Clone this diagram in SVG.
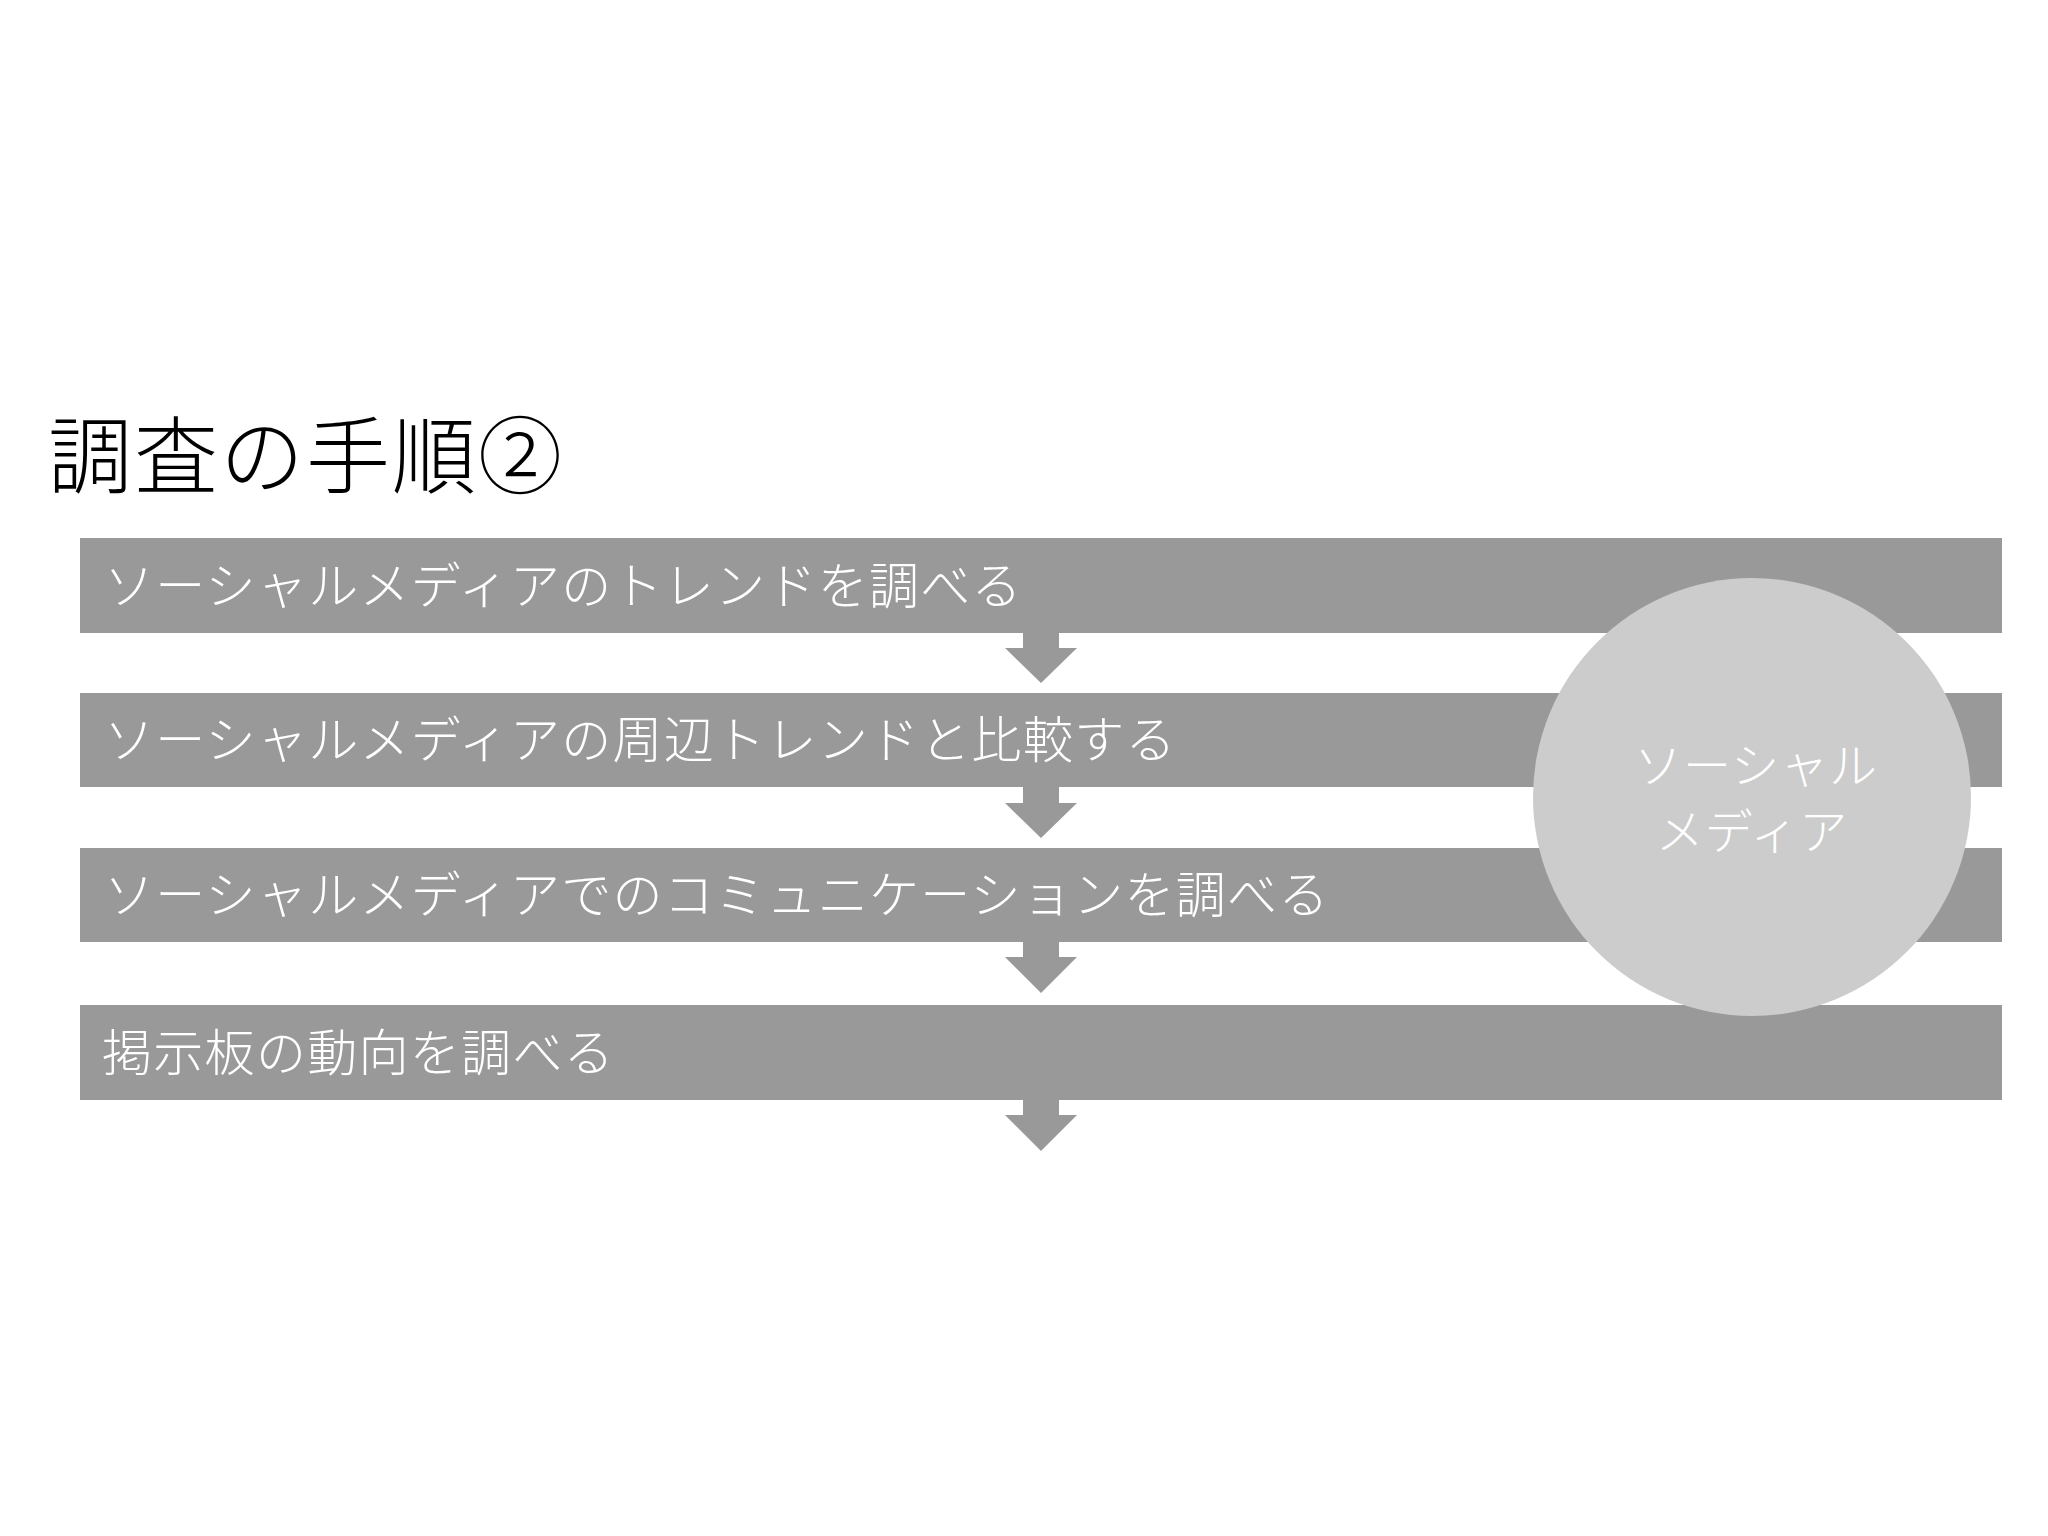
<svg xmlns="http://www.w3.org/2000/svg" width="2048" height="1536" viewBox="0 0 2048 1536">
<style>
.bar{fill:#999999}
.arrow{fill:#999999}
.bt{font-family:"Noto Sans CJK JP","Noto Sans CJK SC",sans-serif;font-size:50px;font-weight:300;fill:#ffffff;letter-spacing:1.3px}
.title{font-family:"Noto Sans CJK JP","Noto Sans CJK SC",sans-serif;font-size:84px;font-weight:300;fill:#000000;letter-spacing:2px}
.ct{font-family:"Noto Sans CJK JP","Noto Sans CJK SC",sans-serif;font-size:48px;font-weight:300;fill:#ffffff;text-anchor:middle;letter-spacing:1px}
</style>
<rect width="2048" height="1536" fill="#ffffff"/>
<text id="title" class="title" x="48" y="487">調査の手順②</text>
<g id="step1"><rect class="bar" x="80" y="538" width="1922" height="95"/><text class="bt" x="104" y="604">ソーシャルメディアのトレンドを調べる</text></g>
<g id="step2"><rect class="bar" x="80" y="693" width="1922" height="94"/><text class="bt" x="104" y="758">ソーシャルメディアの周辺トレンドと比較する</text></g>
<g id="step3"><rect class="bar" x="80" y="848" width="1922" height="94"/><text class="bt" x="104" y="913">ソーシャルメディアでのコミュニケーションを調べる</text></g>
<g id="step4"><rect class="bar" x="80" y="1005" width="1922" height="95"/><text class="bt" x="102" y="1071">掲示板の動向を調べる</text></g>
<g id="connectors">
<path class="arrow" d="M1023,633 H1059 V648 H1077 L1041,683 L1005,648 H1023 Z"/>
<path class="arrow" d="M1023,787 H1059 V803 H1077 L1041,838 L1005,803 H1023 Z"/>
<path class="arrow" d="M1023,942 H1059 V957 H1077 L1041,993 L1005,957 H1023 Z"/>
<path class="arrow" d="M1023,1100 H1059 V1115 H1077 L1041,1151 L1005,1115 H1023 Z"/>
</g>
<g id="social-media"><circle cx="1752" cy="797" r="219" fill="#cccccc"/><text class="ct" x="1756" y="783">ソーシャル</text><text class="ct" x="1752" y="849">メディア</text></g>
</svg>
